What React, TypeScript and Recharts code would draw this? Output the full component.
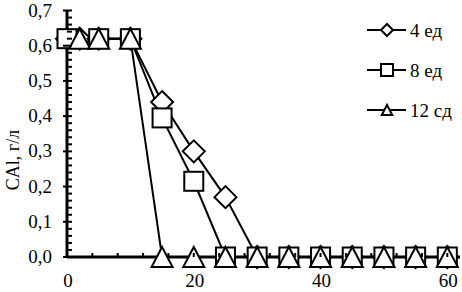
import React from 'react';
import { LineChart, Line, XAxis, YAxis } from 'recharts';

const times = [0, 2, 5, 10, 15, 20, 25, 30, 35, 40, 45, 50, 55, 60];
const dose4 = [0.62, 0.62, 0.62, 0.62, 0.44, 0.3, 0.17, 0, 0, 0, 0, 0, 0, 0];
const dose8 = [0.62, null, 0.62, 0.62, 0.395, 0.215, 0, 0, 0, 0, 0, 0, 0, 0];
const dose12 = [null, 0.62, 0.62, 0.62, 0, 0, 0, 0, 0, 0, 0, 0, 0, 0];
const seriesNames = ['4 ед', '8 ед', '12 сд'];
const yMajorTicks = [0, 0.1, 0.2, 0.3, 0.4, 0.5, 0.6, 0.7];
const xMajorTicks = [0, 20, 40, 60];
const yAxisTitle = 'CAl, г/л';

const yTicks: number[] = [];
yMajorTicks.forEach((v, i) => {
  yTicks.push(v);
  if (i < yMajorTicks.length - 1) {
    for (let k = 1; k < 5; k++) yTicks.push(+(v + (k * 0.1) / 5).toFixed(3));
  }
});
const xTicks: number[] = [];
for (let v = 0; v <= 60; v += 4) xTicks.push(v);

const data = times.map((t, i) => ({ x: t, d4: dose4[i], d8: dose8[i], d12: dose12[i] }));

const FS = 19;
const txtStyle = { fontFamily: "'Liberation Serif', 'DejaVu Serif', serif", fontSize: FS };

const Diamond = ({ cx, cy, r, sw }: any) => (
  <polygon
    points={`${cx},${cy - r} ${cx + r},${cy} ${cx},${cy + r} ${cx - r},${cy}`}
    fill="#fff"
    stroke="#000"
    strokeWidth={sw}
  />
);
const Square = ({ cx, cy, r, sw }: any) => (
  <rect x={cx - r} y={cy - r} width={2 * r} height={2 * r} fill="#fff" stroke="#000" strokeWidth={sw} />
);
const Triangle = ({ cx, cy, r, sw }: any) => (
  <polygon
    points={`${cx},${cy - r} ${cx + r * 1.05},${cy + r} ${cx - r * 1.05},${cy + r}`}
    fill="#fff"
    stroke="#000"
    strokeWidth={sw}
  />
);

const makeDot = (Shape: any, r: number) => (p: any) => {
  if (p.cy == null || p.value == null || p.cx == null) return <g key={`e${p.index}`} />;
  return (
    <g key={`d${p.index}`}>
      <Shape cx={p.cx} cy={p.cy} r={r} sw={2} />
    </g>
  );
};

const YTick = (props: any) => {
  const { x, y, payload } = props;
  const v = payload.value;
  const major = Math.abs(v * 10 - Math.round(v * 10)) < 1e-6;
  return (
    <g>
      <line x1={major ? x - 4 : x} x2={x + 5} y1={y} y2={y} stroke="#000" strokeWidth={2} />
      {major && (
        <text x={x - 15} y={y + 6} textAnchor="end" style={txtStyle} fill="#000">
          {v.toFixed(1).replace('.', ',')}
        </text>
      )}
    </g>
  );
};

const XTick = (props: any) => {
  const { x, y, payload } = props;
  const v = payload.value;
  const major = xMajorTicks.includes(v);
  return (
    <g>
      <line x1={x} x2={x} y1={y} y2={y - 4} stroke="#000" strokeWidth={2} />
      {major && (
        <text x={x + 1} y={y + 30} textAnchor="middle" style={txtStyle} fill="#000">
          {v}
        </text>
      )}
    </g>
  );
};

const legendShapes = [Diamond, Square, Triangle];

export default function App() {
  return (
    <div style={{ position: 'absolute', left: 0, top: 0, width: 462, height: 292, background: '#fff' }}>
      <LineChart width={462} height={292} data={data} margin={{ top: 10.5, right: 2, left: 0, bottom: 0 }}>
        <XAxis
          dataKey="x"
          type="number"
          domain={[0, 62]}
          ticks={xTicks}
          interval={0}
          tickLine={false}
          tickSize={0}
          tickMargin={0}
          height={35}
          axisLine={{ stroke: '#000', strokeWidth: 3 }}
          tick={<XTick />}
        />
        <YAxis
          type="number"
          domain={[0, 0.7]}
          ticks={yTicks}
          interval={0}
          tickLine={false}
          tickSize={0}
          tickMargin={0}
          width={67}
          axisLine={{ stroke: '#000', strokeWidth: 3 }}
          tick={<YTick />}
          label={{
            content: () => (
              <text
                x={19}
                y={160}
                transform="rotate(-90 19 160)"
                textAnchor="middle"
                style={{ ...txtStyle, fontSize: 18 }}
                fill="#000"
              >
                {yAxisTitle}
              </text>
            ),
          }}
        />
        <Line dataKey="d4" stroke="#000" strokeWidth={2} isAnimationActive={false} connectNulls dot={makeDot(Diamond, 11)} activeDot={false} />
        <Line dataKey="d8" stroke="#000" strokeWidth={2} isAnimationActive={false} connectNulls dot={makeDot(Square, 9.5)} activeDot={false} />
        <Line dataKey="d12" stroke="#000" strokeWidth={2} isAnimationActive={false} connectNulls dot={makeDot(Triangle, 10)} activeDot={false} />
      </LineChart>
      <svg width={100} height={130} style={{ position: 'absolute', left: 362, top: 0 }}>
        {seriesNames.map((name, i) => {
          const cy = 30 + i * 40;
          const Shape = legendShapes[i];
          return (
            <g key={name}>
              <line x1={5} x2={44} y1={cy} y2={cy} stroke="#000" strokeWidth={2} />
              <Shape cx={25} cy={cy} r={i === 2 ? 5 : 6} sw={2} />
              <text x={48} y={cy + 7} style={txtStyle} fill="#000">
                {name}
              </text>
            </g>
          );
        })}
      </svg>
    </div>
  );
}
